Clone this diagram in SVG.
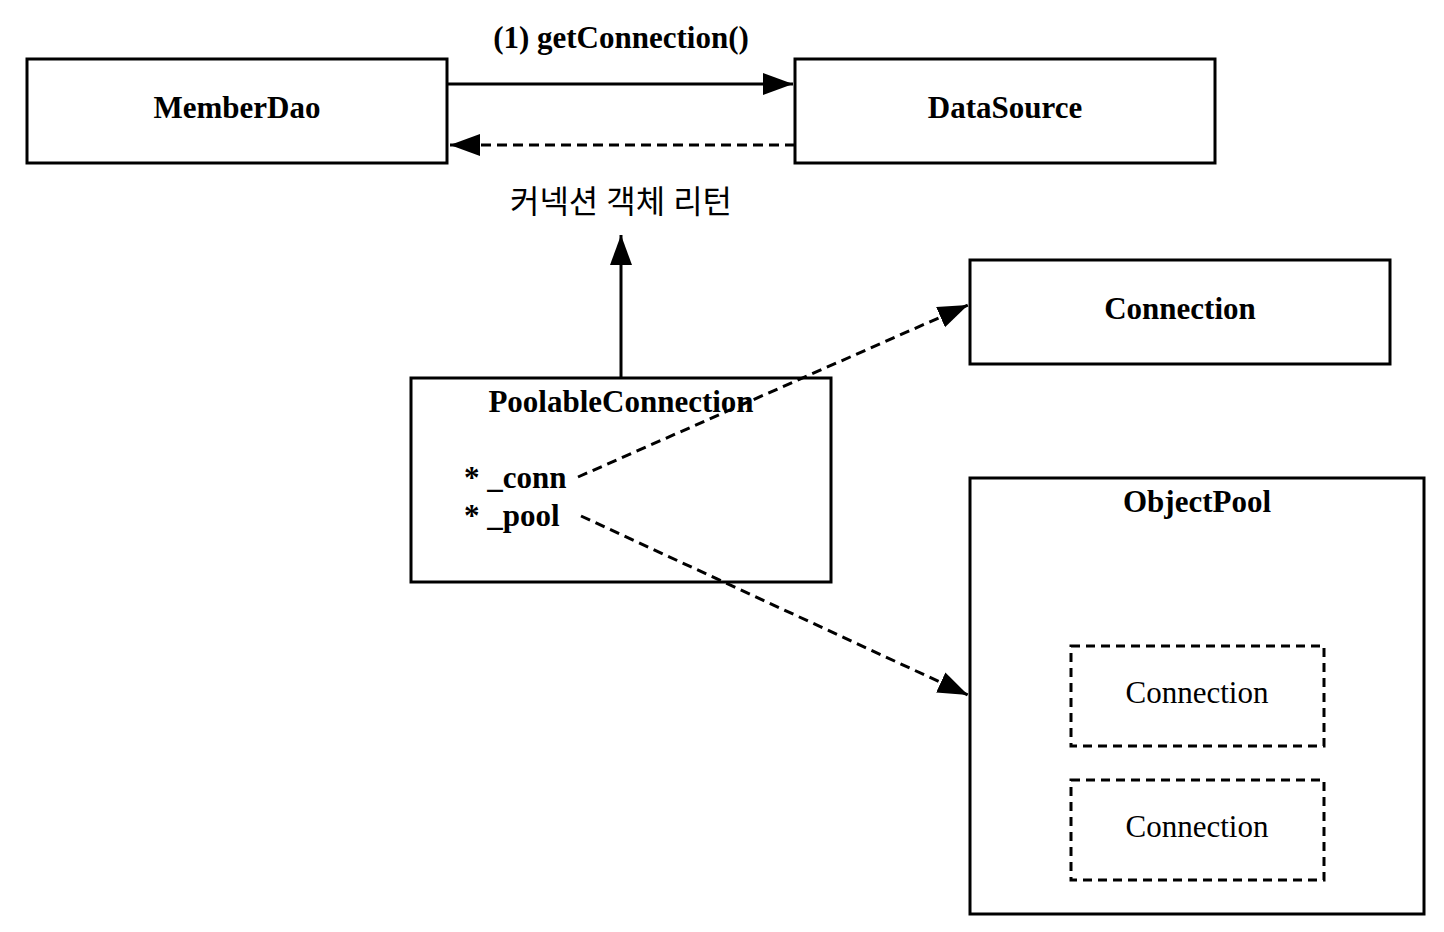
<svg xmlns="http://www.w3.org/2000/svg" width="1444" height="932" viewBox="0 0 1444 932">
<style>
.box{fill:#fff;stroke:#000;stroke-width:3}
.dbox{fill:#fff;stroke:#000;stroke-width:3;stroke-dasharray:9 6}
.t{font-family:"Liberation Serif","Noto Sans CJK KR",serif;font-size:31px;fill:#000}
.b{font-weight:bold}
.ln{stroke:#000;stroke-width:3;fill:none}
.dash{stroke-dasharray:10 6}
</style>
<defs>
<marker id="ah" markerUnits="userSpaceOnUse" markerWidth="32" markerHeight="24" refX="30" refY="11" orient="auto">
<path d="M0,0 L30,11 L0,22 Z" fill="#000"/>
</marker>
</defs>
<rect width="1444" height="932" fill="#fff"/>
<g id="connectors">
<line class="ln" x1="447" y1="84" x2="793" y2="84" marker-end="url(#ah)"/>
<line class="ln dash" x1="795" y1="145" x2="450" y2="145" marker-end="url(#ah)"/>
<line class="ln" x1="621" y1="378" x2="621" y2="235" marker-end="url(#ah)"/>
<line class="ln dash" x1="578" y1="477" x2="968" y2="305" marker-end="url(#ah)"/>
<line class="ln dash" x1="581" y1="516" x2="968" y2="695" marker-end="url(#ah)"/>
<text class="t b" x="621" y="48" text-anchor="middle">(1) getConnection()</text>
<text class="t" x="621" y="213" text-anchor="middle" style="font-size:32px">커넥션 객체 리턴</text>
</g>
<g id="memberdao">
<rect class="box" x="27" y="59" width="420" height="104"/>
<text class="t b" x="237" y="118" text-anchor="middle">MemberDao</text>
</g>
<g id="datasource">
<rect class="box" x="795" y="59" width="420" height="104"/>
<text class="t b" x="1005" y="118" text-anchor="middle">DataSource</text>
</g>
<g id="connection">
<rect class="box" x="970" y="260" width="420" height="104"/>
<text class="t b" x="1180" y="319" text-anchor="middle">Connection</text>
</g>
<g id="poolable">
<rect class="box" x="411" y="378" width="420" height="204" style="fill:none"/>
<text class="t b" x="621" y="412" text-anchor="middle">PoolableConnection</text>
<text class="t b" x="464" y="488">* _conn</text>
<text class="t b" x="464" y="526">* _pool</text>
</g>
<g id="objectpool">
<rect class="box" x="970" y="478" width="454" height="436"/>
<text class="t b" x="1197" y="512" text-anchor="middle">ObjectPool</text>
</g>
<g id="pool-conn1">
<rect class="dbox" x="1071" y="646" width="253" height="100"/>
<text class="t" x="1197" y="703" text-anchor="middle">Connection</text>
</g>
<g id="pool-conn2">
<rect class="dbox" x="1071" y="780" width="253" height="100"/>
<text class="t" x="1197" y="837" text-anchor="middle">Connection</text>
</g>
</svg>
